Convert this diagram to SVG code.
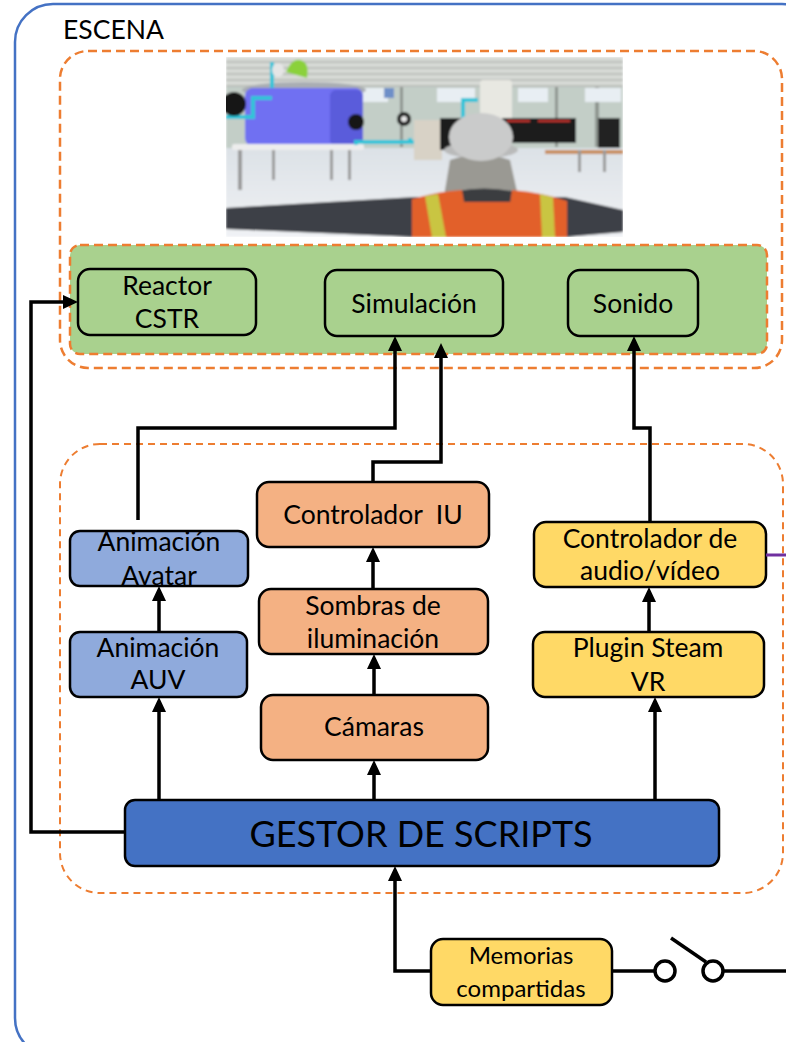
<svg xmlns="http://www.w3.org/2000/svg" width="786" height="1042" viewBox="0 0 786 1042">
  <defs>
    <style>
      .lbl { font-family: Lato, "Liberation Sans", sans-serif; font-size: 26.5px; fill: #000; text-anchor: middle; }
      .box { stroke: #000; stroke-width: 2.5; }
      .green { fill: #A9D18E; }
      .blue { fill: #8FAADC; }
      .peach { fill: #F4B183; }
      .yellow { fill: #FFD966; }
      .conn { fill: none; stroke: #000; stroke-width: 3.5; }
      .arr { marker-end: url(#head); }
      .dash-outer { fill: none; stroke: #ED7D31; stroke-width: 2.5; stroke-dasharray: 9 5; }
      .dash-inner { fill: none; stroke: #ED7D31; stroke-width: 2; stroke-dasharray: 7 5; }
    </style>
    <marker id="head" markerUnits="userSpaceOnUse" markerWidth="15" markerHeight="14" refX="11" refY="7" orient="auto">
      <path d="M0,0 L15,7 L0,14 Z" fill="#000"/>
    </marker>
    <clipPath id="shot">
      <rect x="226" y="57" width="397" height="180"/>
    </clipPath>
    <linearGradient id="floor" x1="0" y1="0" x2="0" y2="1">
      <stop offset="0" stop-color="#DCE1E6"/>
      <stop offset="1" stop-color="#F0F2F5"/>
    </linearGradient>
    <filter id="soft" x="-5%" y="-5%" width="110%" height="110%">
      <feGaussianBlur stdDeviation="0.8"/>
    </filter>
  </defs>

  <!-- outer scene frame -->
  <rect x="15" y="4" width="805" height="1052" rx="38" fill="none" stroke="#4472C4" stroke-width="2.5"/>
  <text x="63" y="39" font-family="Lato, 'Liberation Sans', sans-serif" font-size="26.5">ESCENA</text>

  <!-- upper container -->
  <rect class="dash-outer" x="60" y="51" width="722" height="317" rx="28"/>

  <!-- rendered plant view -->
  <g id="plant-view" clip-path="url(#shot)" filter="url(#soft)">
    <rect x="226" y="57" width="397" height="180" fill="#C3CEC7"/>
    <!-- ceiling and trusses -->
    <rect x="226" y="57" width="397" height="30" fill="#D7DAD6"/>
    <g stroke="#B3B6B2" stroke-width="1.5">
      <line x1="226" y1="62" x2="623" y2="62"/>
      <line x1="226" y1="68" x2="623" y2="68"/>
      <line x1="226" y1="74" x2="623" y2="74"/>
      <line x1="226" y1="80" x2="623" y2="80"/>
      <line x1="226" y1="86" x2="623" y2="86"/>
    </g>
    <g fill="#8E9590">
      <rect x="400" y="87" width="3" height="60"/>
      <rect x="555" y="87" width="3" height="60"/>
      <rect x="595" y="87" width="4" height="60"/>
    </g>
    <!-- windows -->
    <g fill="#E8EEF3">
      <rect x="360" y="88" width="28" height="14"/>
      <rect x="437" y="88" width="38" height="14"/>
      <rect x="518" y="88" width="30" height="14"/>
      <rect x="585" y="88" width="36" height="14"/>
    </g>
    <rect x="384" y="88" width="10" height="10" fill="#6E8FC8"/>
    <!-- floor -->
    <rect x="226" y="148" width="397" height="89" fill="url(#floor)"/>
    <!-- reactor tank -->
    <ellipse cx="304" cy="90" rx="62" ry="8" fill="#A9ADB3"/>
    <rect x="245" y="88" width="118" height="58" rx="8" fill="#6F70F2"/>
    <rect x="330" y="90" width="33" height="56" rx="6" fill="#5A5BDB"/>
    <path d="M286,72 Q292,58 300,60 Q310,62 307,78 Z" fill="#8BD13A"/>
    <rect x="270" y="62" width="4" height="26" fill="#2EC4D8"/>
    <ellipse cx="278" cy="70" rx="6" ry="7" fill="#E5E5E5"/>
    <!-- table -->
    <rect x="232" y="144" width="132" height="6" rx="2" fill="#EDEDED"/>
    <g fill="#9A9A9A">
      <rect x="238" y="150" width="4" height="40"/>
      <rect x="272" y="150" width="3" height="30"/>
      <rect x="330" y="150" width="3" height="30"/>
      <rect x="348" y="150" width="3" height="30"/>
    </g>
    <!-- pipes -->
    <g fill="none" stroke="#2EC4D8" stroke-width="4">
      <path d="M226,117 H253 V98 H272"/>
      <path d="M356,145 V142 H395 H410 V138"/>
      <path d="M365,142 H420 V138"/>
      <path d="M417,158 V145 M463,125 V100 H478"/>
    </g>
    <!-- gauges -->
    <circle cx="234" cy="104" r="12" fill="#151515"/>
    <circle cx="356" cy="122" r="8" fill="#151515"/>
    <circle cx="404" cy="119" r="7" fill="#151515"/>
    <circle cx="404" cy="119" r="3" fill="#E8E8E8"/>
    <!-- right-side equipment -->
    <rect x="480" y="80" width="32" height="62" rx="3" fill="#E8E8E2"/>
    <rect x="414" y="120" width="28" height="40" fill="#D8D2C6"/>
    <rect x="440" y="118" width="42" height="32" fill="#1C1C1C"/>
    <rect x="502" y="118" width="40" height="25" fill="#1C1C1C"/>
    <rect x="532" y="118" width="44" height="25" fill="#1C1C1C"/>
    <g stroke="#C0302A" stroke-width="2">
      <line x1="507" y1="121" x2="530" y2="121"/>
      <line x1="538" y1="121" x2="570" y2="121"/>
    </g>
    <rect x="598" y="118" width="22" height="30" fill="#222"/>
    <rect x="545" y="150" width="78" height="4" fill="#C88F5E"/>
    <rect x="578" y="150" width="3" height="22" fill="#9A9A9A"/>
    <rect x="603" y="150" width="3" height="22" fill="#9A9A9A"/>
    <!-- worker: arms, back, vest, helmet -->
    <path d="M226,208 L415,197 L565,197 L623,210 L623,232 L565,237 L415,237 L226,229 Z" fill="#3E4147"/>
    <path d="M450,160 Q480,150 510,160 L518,196 L444,196 Z" fill="#9A9993"/>
    <path d="M430,200 Q478,178 540,198 L560,237 L415,237 Z" fill="#3A3C40"/>
    <path d="M412,199 Q440,191 462,190 L470,237 L412,237 Z" fill="#E2602A"/>
    <path d="M512,190 Q545,193 567,201 L567,237 L505,237 Z" fill="#E2602A"/>
    <path d="M460,202 L515,202 L512,237 L468,237 Z" fill="#E2602A"/>
    <path d="M425,196 L438,194 L446,237 L432,237 Z" fill="#C9C543"/>
    <path d="M540,194 L553,197 L555,237 L542,237 Z" fill="#C9C543"/>
    <ellipse cx="481" cy="150" rx="37" ry="8" fill="#B9BABA"/>
    <ellipse cx="481" cy="137" rx="32" ry="24" fill="#CACBCB"/>
  </g>

  <!-- lower container -->
  <rect class="dash-inner" x="60" y="444" width="723" height="449" rx="40"/>

  <!-- outputs panel -->
  <g id="outputs">
    <rect class="green" x="70" y="245" width="697" height="109" rx="10" stroke="#ED7D31" stroke-width="2.5" stroke-dasharray="9 5"/>
  </g>
  <g id="reactor">
    <rect class="box green" x="78" y="269" width="178" height="66" rx="12"/>
    <text class="lbl" x="167" y="295">Reactor</text>
    <text class="lbl" x="167" y="328">CSTR</text>
  </g>
  <g id="simulacion">
    <rect class="box green" x="325" y="270" width="178" height="66" rx="12"/>
    <text class="lbl" x="414" y="313">Simulación</text>
  </g>
  <g id="sonido">
    <rect class="box green" x="568" y="270" width="130" height="66" rx="12"/>
    <text class="lbl" x="633" y="313">Sonido</text>
  </g>

  <g id="animacion-avatar">
    <rect class="box blue" x="70" y="531" width="178" height="55" rx="10"/>
    <text class="lbl" x="159" y="551">Animación</text>
    <text class="lbl" x="159" y="585">Avatar</text>
  </g>
  <g id="animacion-auv">
    <rect class="box blue" x="70" y="632" width="177" height="65" rx="10"/>
    <text class="lbl" x="158" y="657">Animación</text>
    <text class="lbl" x="158" y="689">AUV</text>
  </g>

  <g id="controlador-iu">
    <rect class="box peach" x="257" y="482" width="232" height="65" rx="12"/>
    <text class="lbl" x="373" y="524">Controlador&#160; IU</text>
  </g>
  <g id="sombras">
    <rect class="box peach" x="259" y="589" width="229" height="65" rx="12"/>
    <text class="lbl" x="373" y="615">Sombras de</text>
    <text class="lbl" x="373" y="648">iluminación</text>
  </g>
  <g id="camaras">
    <rect class="box peach" x="261" y="695" width="227" height="65" rx="12"/>
    <text class="lbl" x="374" y="736">Cámaras</text>
  </g>

  <g id="controlador-av">
    <rect class="box yellow" x="534" y="522" width="232" height="65" rx="12"/>
    <text class="lbl" x="650" y="548">Controlador de</text>
    <text class="lbl" x="650" y="580">audio/vídeo</text>
  </g>
  <g id="plugin-steamvr">
    <rect class="box yellow" x="533" y="632" width="231" height="65" rx="12"/>
    <text class="lbl" x="648" y="657">Plugin Steam</text>
    <text class="lbl" x="648" y="691">VR</text>
  </g>

  <g id="gestor">
    <rect class="box" x="125" y="800" width="594" height="66" rx="10" fill="#4472C4"/>
    <text class="lbl" x="421" y="847" style="font-size:36px">GESTOR DE SCRIPTS</text>
  </g>

  <g id="memorias">
    <rect class="box yellow" x="431" y="939" width="181" height="66" rx="12"/>
    <text class="lbl" x="521" y="964" style="font-size:24px">Memorias</text>
    <text class="lbl" x="521" y="997" style="font-size:24px">compartidas</text>
  </g>

  <!-- connectors -->
  <g id="connectors">
    <path class="conn arr" d="M125,832 H31 V302 H74"/>
    <path class="conn arr" d="M159,800 V701"/>
    <path class="conn arr" d="M159,632 V590"/>
    <path class="conn arr" d="M138,520 V428 H395 V340"/>
    <path class="conn arr" d="M373,482 V462 H441 V347"/>
    <path class="conn arr" d="M373,589 V551"/>
    <path class="conn arr" d="M374,695 V658"/>
    <path class="conn arr" d="M374,800 V764"/>
    <path class="conn arr" d="M655,800 V701"/>
    <path class="conn arr" d="M649,632 V591"/>
    <path class="conn arr" d="M650,522 V428 H634 V340"/>
    <path class="conn arr" d="M431,971 H395 V870"/>
    <!-- switch on the shared-memory line -->
    <path class="conn" d="M612,971 H655"/>
    <circle cx="665" cy="971" r="10" fill="#fff" stroke="#000" stroke-width="3.5"/>
    <circle cx="713" cy="971" r="10" fill="#fff" stroke="#000" stroke-width="3.5"/>
    <path class="conn" d="M671,938 L706,962"/>
    <path class="conn" d="M723,971 H786"/>
    <path d="M766,555 H786" fill="none" stroke="#7030A0" stroke-width="3"/>
  </g>
</svg>
